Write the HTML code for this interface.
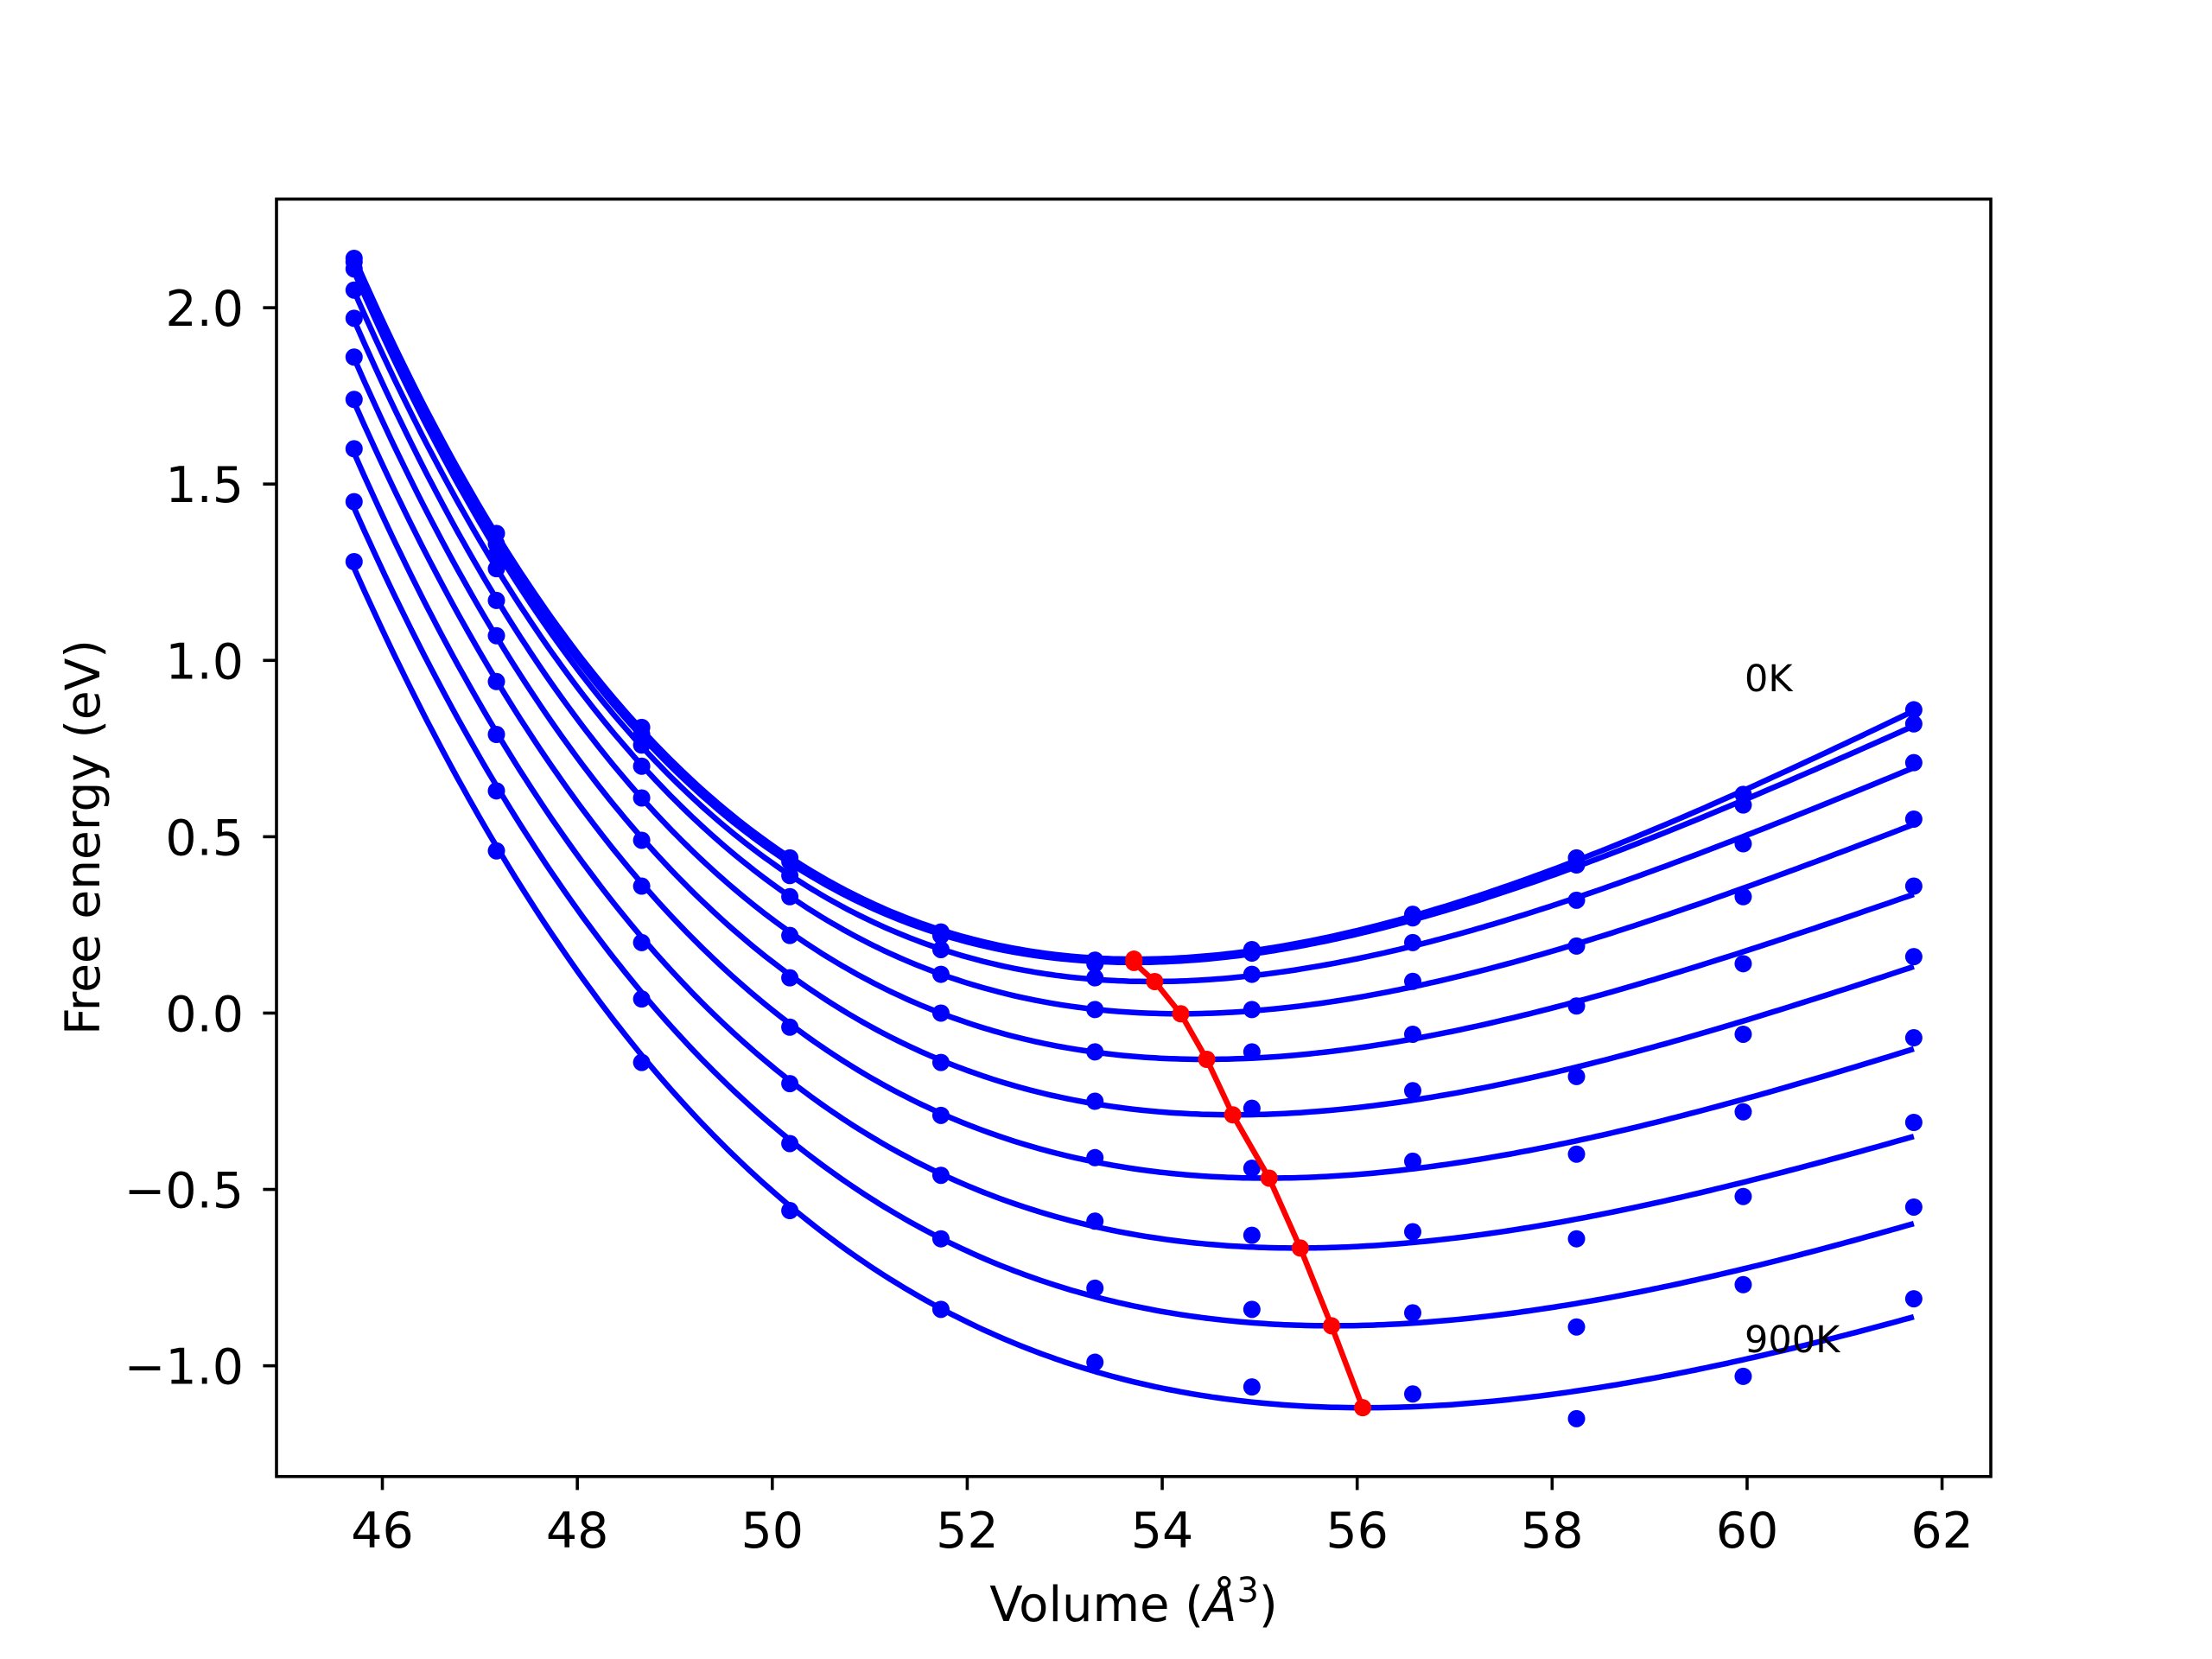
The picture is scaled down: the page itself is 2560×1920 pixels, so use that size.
<!DOCTYPE html>
<html><head><meta charset="utf-8"><style>
html,body{margin:0;padding:0;background:#fff;}
svg{display:block;font-family:"DejaVu Sans","Liberation Sans",sans-serif;}
</style></head><body>
<svg id="chart" width="2560" height="1920" viewBox="0 0 2560 1920" xmlns="http://www.w3.org/2000/svg">
<rect width="2560" height="1920" fill="#fff"/>
<g id="plot"></g>
<g id="axes"></g>
</svg>
<script>
const volumes = [45.71,47.17,48.66,50.18,51.73,53.31,54.92,56.57,58.25,59.96,61.71];
const temperatures = ["0K","100K","200K","300K","400K","500K","600K","700K","800K","900K"];
const energies0 = [2.14,1.36,0.81,0.44,0.23,0.15,0.18,0.28,0.44,0.62,0.86];
const energies1 = [2.13,1.33,0.79,0.43,0.22,0.14,0.17,0.27,0.42,0.59,0.82];
const energies2 = [2.11,1.30,0.76,0.39,0.18,0.10,0.11,0.20,0.32,0.48,0.71];
const energies3 = [2.05,1.26,0.70,0.33,0.11,0.01,0.01,0.09,0.19,0.33,0.55];
const energies4 = [1.97,1.17,0.61,0.22,0.00,-0.11,-0.11,-0.06,0.02,0.14,0.36];
const energies5 = [1.86,1.07,0.49,0.10,-0.14,-0.25,-0.27,-0.22,-0.18,-0.06,0.16];
const energies6 = [1.74,0.94,0.36,-0.04,-0.29,-0.41,-0.44,-0.42,-0.40,-0.28,-0.07];
const energies7 = [1.60,0.79,0.20,-0.20,-0.46,-0.59,-0.63,-0.62,-0.64,-0.52,-0.31];
const energies8 = [1.45,0.63,0.04,-0.37,-0.64,-0.78,-0.84,-0.85,-0.89,-0.77,-0.55];
const energies9 = [1.28,0.46,-0.14,-0.56,-0.84,-0.99,-1.06,-1.08,-1.15,-1.03,-0.81];
const series = [energies0,energies1,energies2,energies3,energies4,energies5,energies6,energies7,energies8,energies9];
const xTicks = [46,48,50,52,54,56,58,60,62];
const yTicks = [-1.0,-0.5,0.0,0.5,1.0,1.5,2.0];

const L=320,R=2304,T=230.4,B=1708.8;
const xMin=44.914,xMax=62.5,yMin=-1.314,yMax=2.308;
const sx=v=>L+(v-xMin)/(xMax-xMin)*(R-L);
const sy=v=>B-(v-yMin)/(yMax-yMin)*(B-T);
const NS="http://www.w3.org/2000/svg";
function mk(tag,attrs,parent){const e=document.createElementNS(NS,tag);for(const k in attrs)e.setAttribute(k,attrs[k]);parent.appendChild(e);return e;}
const plot=document.getElementById('plot'), axes=document.getElementById('axes');

// Birch-Murnaghan style fit: cubic polynomial in V^(-2/3)
function fit(xs,ys){
  const tr=x=>(Math.pow(x,-2/3)-Math.pow(54,-2/3))*100;
  const n=4;const A=[];const b=[];
  for(let i=0;i<n;i++){A.push(new Array(n).fill(0));b.push(0);}
  xs.forEach((x,k)=>{const t=tr(x);const p=[];for(let i=0;i<n;i++)p.push(Math.pow(t,i));
    for(let i=0;i<n;i++){b[i]+=p[i]*ys[k];for(let j=0;j<n;j++)A[i][j]+=p[i]*p[j];}});
  for(let i=0;i<n;i++){let m=i;for(let r=i+1;r<n;r++)if(Math.abs(A[r][i])>Math.abs(A[m][i]))m=r;
    [A[i],A[m]]=[A[m],A[i]];[b[i],b[m]]=[b[m],b[i]];
    for(let r=0;r<n;r++){if(r===i)continue;const f=A[r][i]/A[i][i];for(let c=i;c<n;c++)A[r][c]-=f*A[i][c];b[r]-=f*b[i];}}
  const c=b.map((v,i)=>v/A[i][i]);
  return x=>{const t=tr(x);let s=0;for(let i=n-1;i>=0;i--)s=s*t+c[i];return s;};
}
const clip=mk('clipPath',{id:'clip'},document.getElementById('chart'));
mk('rect',{x:L,y:T,width:R-L,height:B-T},clip);
plot.setAttribute('clip-path','url(#clip)');
const minima=[];
series.forEach((ys,si)=>{
  const f=fit(volumes,ys);
  const x1=volumes[0],x2=volumes[volumes.length-1];
  let d='';let best={x:x1,y:f(x1)};
  for(let i=0;i<=300;i++){const x=x1+(x2-x1)*i/300;const y=f(x);if(y<best.y)best={x,y};d+=(i?'L':'M')+sx(x).toFixed(1)+','+sy(y).toFixed(1);}
  minima.push(best);
  const p=mk('path',{d,fill:'none',stroke:'#0000ff','stroke-width':6.5,'stroke-linejoin':'round'},plot);
  
  
  ys.forEach((y,k)=>{
    const c=mk('circle',{cx:sx(volumes[k]),cy:sy(y),r:10,fill:'#0000ff'},plot);
    
    
  });
});
let md='';minima.forEach((m,i)=>{md+=(i?'L':'M')+sx(m.x).toFixed(1)+','+sy(m.y).toFixed(1);});
const ml=mk('path',{d:md,fill:'none',stroke:'#ff0000','stroke-width':6.5,'stroke-linejoin':'round'},plot);


minima.forEach((m,i)=>{
  const c=mk('circle',{cx:sx(m.x),cy:sy(m.y),r:10,fill:'#ff0000'},plot);
  
  
});
// annotations
const a0=mk('text',{x:2019,y:800,'font-size':43},plot);a0.textContent='0K';


const a9=mk('text',{x:2019,y:1565,'font-size':43},plot);a9.textContent='900K';


// frame
const fr=mk('rect',{x:L,y:T,width:R-L,height:B-T,fill:'none',stroke:'#000','stroke-width':3.6},axes);


xTicks.forEach(v=>{
  const x=sx(v);
  mk('line',{x1:x,y1:B,x2:x,y2:B+15.6,stroke:'#000','stroke-width':3.6},axes);
  const t=mk('text',{x:x,y:1791,'font-size':57,'text-anchor':'middle'},axes);t.textContent=v;
  
  
});
yTicks.forEach(v=>{
  const y=sy(v);
  mk('line',{x1:L-15.6,y1:y,x2:L,y2:y,stroke:'#000','stroke-width':3.6},axes);
  const t=mk('text',{x:282,y:y+21,'font-size':57,'text-anchor':'end'},axes);t.textContent=v.toFixed(1).replace('-','\u2212');
  
  
});
</script>
<svg style="position:absolute;left:0;top:0" width="2560" height="1920">
<text x="1312" y="1876" font-size="56" text-anchor="middle" font-family="DejaVu Sans, Liberation Sans, sans-serif">Volume (<tspan font-style="italic">Å</tspan><tspan font-size="40" dy="-22">3</tspan><tspan dy="22">)</tspan></text>
<text transform="translate(115,969) rotate(-90)" font-size="55" text-anchor="middle" font-family="DejaVu Sans, Liberation Sans, sans-serif">Free energy (eV)</text>
</svg>
</body></html>
